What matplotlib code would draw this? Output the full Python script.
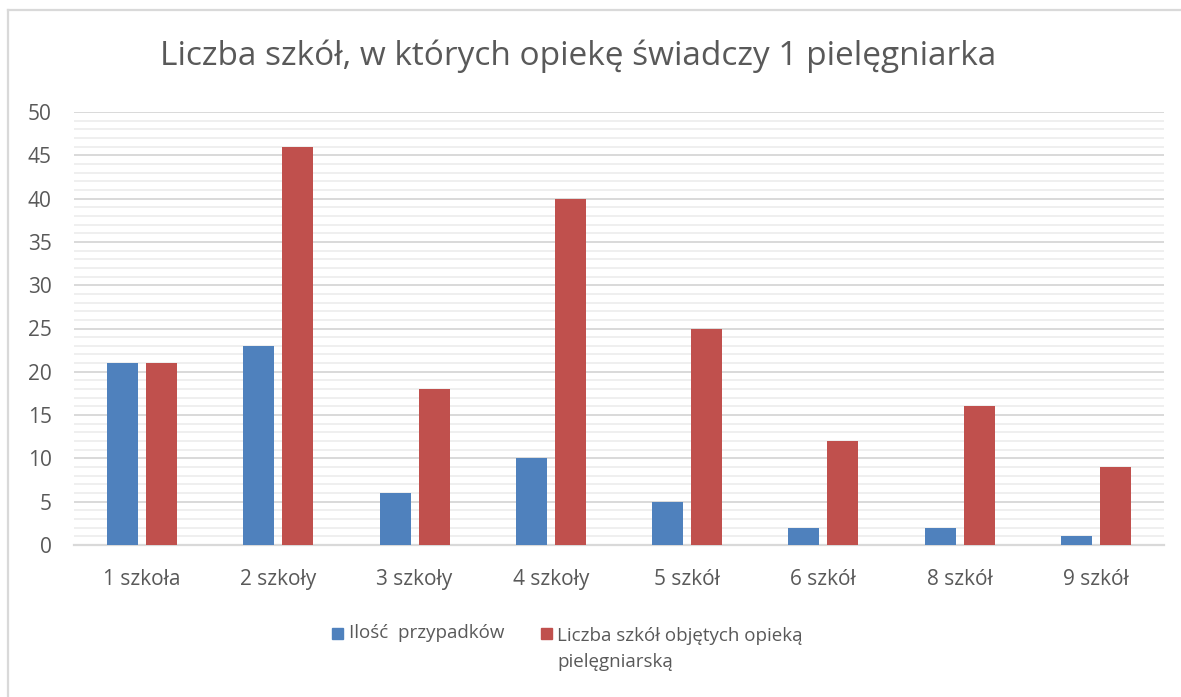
import matplotlib.pyplot as plt
import numpy as np
from matplotlib.patches import Rectangle
from matplotlib.lines import Line2D

categories = ['1 szkoła', '2 szkoły', '3 szkoły', '4 szkoły',
              '5 szkół', '6 szkół', '8 szkół', '9 szkół']
przypadki = [21, 23, 6, 10, 5, 2, 2, 1]
szkoly = [21, 46, 18, 40, 25, 12, 16, 9]

title = 'Liczba szkół, w których opiekę świadczy 1 pielęgniarka'
label_a = 'Ilość  przypadków'
label_b = 'Liczba szkół objętych opieką\npielęgniarską'

blue = '#4F81BD'
red = '#C0504D'
grey_txt = '#595959'

plt.rcParams['font.family'] = ['Open Sans', 'DejaVu Sans']

fig = plt.figure(figsize=(11.81, 6.97), dpi=100)
ax = fig.add_axes([74 / 1181, 152 / 697, 1090 / 1181, 433 / 697])

x = np.arange(len(categories))
w = 0.228
off = 0.143
ax.bar(x - off, przypadki, w, color=blue, zorder=3)
ax.bar(x + off, szkoly, w, color=red, zorder=3)

ax.set_xlim(-0.5, len(categories) - 0.5)
ax.set_ylim(0, 50)
ax.set_yticks(range(0, 51, 5))
ax.set_yticks(range(0, 51, 1), minor=True)
ax.grid(which='minor', axis='y', color='#EFEFEF', lw=1.4, zorder=0)
ax.grid(which='major', axis='y', color='#D9D9D9', lw=1.4, zorder=1)
ax.set_xticks(x)
ax.set_xticklabels(categories)
ax.tick_params(axis='both', which='both', length=0, labelsize=15,
               labelcolor=grey_txt)
ax.tick_params(axis='y', pad=16)
ax.tick_params(axis='x', pad=17)
for s in ['top', 'right', 'left']:
    ax.spines[s].set_visible(False)
ax.spines['bottom'].set_color('#D9D9D9')
ax.spines['bottom'].set_linewidth(1.6)

fig.text(578 / 1181, 1 - 56 / 697, title, ha='center', va='center',
         fontsize=24, color=grey_txt)

# legend
sq = 11
fig.patches.append(Rectangle((332 / 1181, 1 - 639 / 697), sq / 1181, sq / 697,
                             transform=fig.transFigure, color=blue))
fig.patches.append(Rectangle((541 / 1181, 1 - 639 / 697), sq / 1181, sq / 697,
                             transform=fig.transFigure, color=red))
fig.text(349 / 1181, 1 - 633 / 697, label_a, ha='left', va='center',
         fontsize=13.5, color=grey_txt)
fig.text(557 / 1181, 1 - 649 / 697, label_b, ha='left', va='center',
         fontsize=13.5, color=grey_txt, linespacing=1.6)

# chart frame (cropped on right/bottom)
fig.add_artist(Line2D([8 / 1181, 8 / 1181], [0, 1 - 10 / 697],
                      transform=fig.transFigure, color='#D9D9D9', lw=1.6))
fig.add_artist(Line2D([8 / 1181, 1], [1 - 10 / 697, 1 - 10 / 697],
                      transform=fig.transFigure, color='#D9D9D9', lw=1.6))

fig.savefig('out.png', dpi=100)
